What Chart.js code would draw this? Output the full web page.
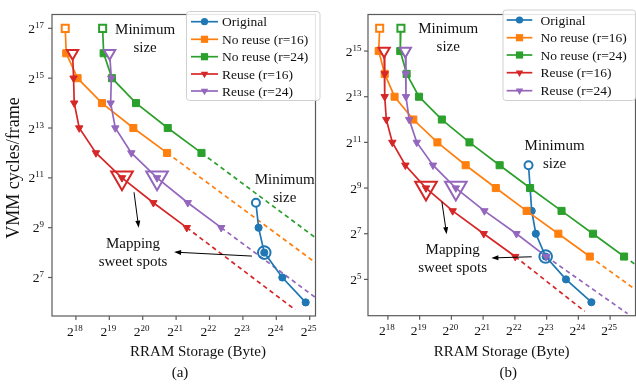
<!DOCTYPE html>
<html>
<head>
<meta charset="utf-8">
<script src="https://cdn.jsdelivr.net/npm/chart.js@4.4.1/dist/chart.umd.min.js"></script>
<style>
  html, body { margin: 0; padding: 0; background: #fff; }
  body { position: relative; width: 636px; height: 386px; overflow: hidden; }
  canvas { position: absolute; top: 0; }
  #chartA { left: 0; }
  #chartB { left: 330px; }
</style>
</head>
<body>
<canvas id="chartA" width="330" height="386"></canvas>
<canvas id="chartB" width="320" height="386"></canvas>
<script>
const seriesNames = ['Original', 'No reuse (r=16)', 'No reuse (r=24)', 'Reuse (r=16)', 'Reuse (r=24)'];
const seriesColors = ['#1f77b4', '#ff7f0e', '#2ca02c', '#d62728', '#9467bd'];
const seriesMarkers = ['circle', 'rect', 'rect', 'triangle', 'triangle'];

// Everything is log2: x = RRAM storage in bytes, y = VMM cycles per frame.
// --- (a)
const origXA = [23.39, 23.47, 23.64, 24.18, 24.88];
const origYA = [10, 9, 8, 7, 6];
const nr16XA = [17.68, 17.71, 18.05, 18.78, 19.72, 20.73];
const nr16YA = [17, 16, 15, 14, 13, 12];
const nr24XA = [18.80, 18.83, 19.08, 19.80, 20.75, 21.76];
const nr24YA = [17, 16, 15, 14, 13, 12];
const r16XA = [17.90, 17.93, 17.95, 18.10, 18.60, 19.38, 20.32, 21.32];
const r16YA = [16, 15, 14, 13, 12, 11, 10, 9];
const r24XA = [19.01, 19.06, 19.04, 19.18, 19.66, 20.43, 21.35, 22.35];
const r24YA = [16, 15, 14, 13, 12, 11, 10, 9];
// end of the dashed projection for each series (null = none)
const projEndA = [null, [25.17, 7.6], [25.17, 8.6], [24.57, 5.7], [25.17, 6.2]];
// index of the sweet spot on each series
const sweetA = [2, null, null, 5, 5];
const xTicksA = [18, 19, 20, 21, 22, 23, 24, 25];
const yTicksA = [7, 9, 11, 13, 15, 17];

// --- (b)
const origXB = [22.43, 22.48, 22.53, 22.66, 22.97, 23.61, 24.41];
const origYB = [10, 9, 8, 7, 6, 5, 4];
const nr16XB = [17.74, 17.71, 17.90, 18.21, 18.80, 19.56, 20.45, 21.40, 22.37, 23.37, 24.36];
const nr16YB = [16, 15, 14, 13, 12, 11, 10, 9, 8, 7, 6];
const nr24XB = [18.41, 18.39, 18.59, 18.98, 19.70, 20.57, 21.52, 22.48, 23.47, 24.46, 25.44];
const nr24YB = [16, 15, 14, 13, 12, 11, 10, 9, 8, 7, 6];
const r16XB = [17.88, 17.90, 17.90, 17.95, 18.14, 18.55, 19.20, 20.04, 21.02, 22.01];
const r16YB = [15, 14, 13, 12, 11, 10, 9, 8, 7, 6];
const r24XB = [18.55, 18.57, 18.57, 18.67, 18.91, 19.42, 20.14, 21.04, 22.05, 22.99];
const r24YB = [15, 14, 13, 12, 11, 10, 9, 8, 7, 6];
const projEndB = [null, [25.9, 4.45], [25.9, 5.55], [24.2, 3.6], [25.55, 3.5]];
const sweetB = [4, null, null, 6, 6];
const xTicksB = [18, 19, 20, 21, 22, 23, 24, 25];
const yTicksB = [5, 7, 9, 11, 13, 15];

const SERIF = '"Liberation Serif", "DejaVu Serif", serif';

function buildDatasets(xs, ys, projEnd, sweet) {
  const sets = [];
  xs.forEach((xv, s) => {
    const color = seriesColors[s];
    const marker = seriesMarkers[s];
    const tri = marker === 'triangle';
    const rot = tri ? 180 : 0;
    const data = xv.map((x, i) => ({ x: x, y: ys[s][i] }));
    const small = marker === 'circle' ? 3.6 : tri ? 4.3 : 5;
    const open = marker === 'circle' ? 4 : tri ? 6.5 : 5;
    sets.push({
      data: data,
      borderColor: color,
      borderWidth: 1.7,
      pointStyle: marker,
      pointRotation: rot,
      pointRadius: data.map((p, i) => i === 0 ? open : small),
      pointBackgroundColor: data.map((p, i) => i === 0 ? '#fff' : color),
      pointBorderColor: color,
      pointBorderWidth: data.map((p, i) => i === 0 ? 2 : 1),
      order: 10 - s
    });
    if (projEnd[s]) {
      sets.push({
        data: [data[data.length - 1], { x: projEnd[s][0], y: projEnd[s][1] }],
        borderColor: color,
        borderWidth: 1.7,
        borderDash: [4.5, 3.5],
        pointRadius: 0,
        order: 20
      });
    }
    if (sweet[s] !== null) {
      sets.push({
        data: [data[sweet[s]]],
        showLine: false,
        pointStyle: marker,
        pointRotation: rot,
        pointRadius: tri ? 12.5 : 6.3,
        pointBackgroundColor: 'rgba(0,0,0,0)',
        pointBorderColor: color,
        pointBorderWidth: 2,
        order: 1
      });
    }
  });
  return sets;
}

// "2" with a raised exponent
function pow2(ctx, n, x, y, align) {
  const base = '13.5px ' + SERIF, sup = '9px ' + SERIF;
  ctx.font = base;
  const bw = ctx.measureText('2').width;
  ctx.font = sup;
  const ew = ctx.measureText(String(n)).width;
  const left = align === 'right' ? x - bw - ew : x - (bw + ew) / 2;
  ctx.textAlign = 'left';
  ctx.textBaseline = 'alphabetic';
  ctx.font = base;
  ctx.fillText('2', left, y);
  ctx.font = sup;
  ctx.fillText(String(n), left + bw, y - 5);
}

function marker(ctx, style, x, y, color) {
  ctx.fillStyle = color;
  ctx.beginPath();
  if (style === 'circle') {
    ctx.arc(x, y, 3.6, 0, Math.PI * 2);
  } else if (style === 'rect') {
    ctx.rect(x - 3.6, y - 3.6, 7.2, 7.2);
  } else {
    ctx.moveTo(x, y + 4.3);
    ctx.lineTo(x - 3.7, y - 2.15);
    ctx.lineTo(x + 3.7, y - 2.15);
    ctx.closePath();
  }
  ctx.fill();
}

function arrow(ctx, x0, y0, x1, y1) {
  const ang = Math.atan2(y1 - y0, x1 - x0);
  ctx.strokeStyle = '#000';
  ctx.fillStyle = '#000';
  ctx.lineWidth = 1;
  ctx.beginPath();
  ctx.moveTo(x0, y0);
  ctx.lineTo(x1 - Math.cos(ang) * 5, y1 - Math.sin(ang) * 5);
  ctx.stroke();
  ctx.beginPath();
  ctx.moveTo(x1, y1);
  ctx.lineTo(x1 - Math.cos(ang) * 7 + Math.sin(ang) * 2.5, y1 - Math.sin(ang) * 7 - Math.cos(ang) * 2.5);
  ctx.lineTo(x1 - Math.cos(ang) * 7 - Math.sin(ang) * 2.5, y1 - Math.sin(ang) * 7 + Math.cos(ang) * 2.5);
  ctx.closePath();
  ctx.fill();
}

function makeDecor(cfg) {
  return {
    id: 'decor',
    afterDatasetsDraw(chart) {
      const ctx = chart.ctx, a = chart.chartArea;
      const sx = chart.scales.x, sy = chart.scales.y;
      ctx.save();

      // frame and outward ticks
      ctx.strokeStyle = '#5a5a5a';
      ctx.lineWidth = 1.2;
      ctx.strokeRect(a.left, a.top, a.right - a.left, a.bottom - a.top);
      ctx.fillStyle = '#111';
      cfg.xTicks.forEach(v => {
        const px = sx.getPixelForValue(v);
        ctx.beginPath();
        ctx.moveTo(px, a.bottom);
        ctx.lineTo(px, a.bottom + 4);
        ctx.stroke();
        pow2(ctx, v, px - 1, a.bottom + 19.5, 'center');
      });
      cfg.yTicks.forEach(v => {
        const py = sy.getPixelForValue(v);
        ctx.beginPath();
        ctx.moveTo(a.left, py);
        ctx.lineTo(a.left - 4, py);
        ctx.stroke();
        pow2(ctx, v, a.left - cfg.yLabelGap, py + 4.5, 'right');
      });

      // axis titles and caption
      ctx.fillStyle = '#111';
      ctx.textAlign = 'center';
      ctx.textBaseline = 'middle';
      ctx.font = '15px ' + SERIF;
      ctx.fillText('RRAM Storage (Byte)', cfg.xTitle[0], cfg.xTitle[1]);
      ctx.fillText(cfg.caption[0], cfg.caption[1], cfg.caption[2]);
      if (cfg.yTitle) {
        ctx.save();
        ctx.translate(cfg.yTitle[0], cfg.yTitle[1]);
        ctx.rotate(-Math.PI / 2);
        ctx.font = '18px ' + SERIF;
        ctx.fillText('VMM cycles/frame', 0, 0);
        ctx.restore();
      }

      // notes and arrows, placed in data units
      ctx.font = '15px ' + SERIF;
      cfg.notes.forEach(n => {
        const px = sx.getPixelForValue(n.x), py = sy.getPixelForValue(n.y);
        n.lines.forEach((t, i) => {
          ctx.fillStyle = '#111';
          ctx.textAlign = 'center';
          ctx.textBaseline = 'middle';
          ctx.fillText(t, px, py + (i - (n.lines.length - 1) / 2) * 18.5);
        });
      });
      cfg.arrows.forEach(ar => {
        arrow(ctx, sx.getPixelForValue(ar[0][0]), sy.getPixelForValue(ar[0][1]),
          sx.getPixelForValue(ar[1][0]), sy.getPixelForValue(ar[1][1]));
      });

      // legend
      const L = cfg.legend;
      ctx.fillStyle = 'rgba(255,255,255,0.85)';
      ctx.strokeStyle = '#d0d0d0';
      ctx.lineWidth = 1;
      ctx.beginPath();
      ctx.roundRect(L.left, L.top, L.right - L.left, L.bottom - L.top, 3);
      ctx.fill();
      ctx.stroke();
      seriesNames.forEach((name, i) => {
        const ry = L.rows[i];
        ctx.strokeStyle = seriesColors[i];
        ctx.lineWidth = 1.7;
        ctx.beginPath();
        ctx.moveTo(L.line[0], ry);
        ctx.lineTo(L.line[1], ry);
        ctx.stroke();
        marker(ctx, seriesMarkers[i], (L.line[0] + L.line[1]) / 2, ry, seriesColors[i]);
        ctx.fillStyle = '#111';
        ctx.textAlign = 'left';
        ctx.textBaseline = 'middle';
        ctx.font = '13.5px ' + SERIF;
        ctx.fillText(name, L.textX, ry + 1);
      });
      ctx.restore();
    }
  };
}

function panel(id, datasets, range, layout, cfg) {
  new Chart(document.getElementById(id), {
    type: 'line',
    data: { datasets: datasets },
    options: {
      responsive: false,
      animation: false,
      devicePixelRatio: 1,
      events: [],
      layout: { padding: { top: layout.top, right: layout.right, left: 0, bottom: 0 } },
      elements: { line: { tension: 0 } },
      plugins: { legend: { display: false }, tooltip: { enabled: false } },
      scales: {
        x: {
          type: 'linear', min: range.x[0], max: range.x[1],
          grid: { display: false }, border: { display: false }, ticks: { display: false },
          afterFit: s => { s.height = layout.xHeight; }
        },
        y: {
          type: 'linear', min: range.y[0], max: range.y[1],
          grid: { display: false }, border: { display: false }, ticks: { display: false },
          afterFit: s => { s.width = layout.yWidth; }
        }
      }
    },
    plugins: [makeDecor(cfg)]
  });
}

panel('chartA',
  buildDatasets([origXA, nr16XA, nr24XA, r16XA, r24XA], [origYA, nr16YA, nr24YA, r16YA, r24YA], projEndA, sweetA),
  { x: [17.284, 25.174], y: [5.455, 17.556] },
  { top: 5, right: 6, xHeight: 70, yWidth: 52 },
  {
    xTicks: xTicksA, yTicks: yTicksA, yLabelGap: 8,
    xTitle: [198, 352], caption: ['(a)', 180, 373], yTitle: [14, 168],
    legend: { left: 186.5, top: 11.5, right: 320, bottom: 100.5, rows: [21.7, 39.3, 56.7, 74, 91], line: [191, 218], textX: 222 },
    notes: [
      { lines: ['Minimum', 'size'], x: 20.07, y: 16.58 },
      { lines: ['Minimum', 'size'], x: 24.25, y: 10.55 },
      { lines: ['Mapping', 'sweet spots'], x: 19.71, y: 7.98 }
    ],
    arrows: [
      [[19.74, 10.42], [19.88, 9.0]],
      [[23.27, 7.86], [20.94, 8.02]]
    ]
  });

panel('chartB',
  buildDatasets([origXB, nr16XB, nr24XB, r16XB, r24XB], [origYB, nr16YB, nr24YB, r16YB, r24YB], projEndB, sweetB),
  { x: [17.373, 25.80], y: [3.41, 16.60] },
  { top: 5, right: 9, xHeight: 70.3, yWidth: 38 },
  {
    xTicks: xTicksB, yTicks: yTicksB, yLabelGap: 6.5,
    xTitle: [171.7, 352], caption: ['(b)', 178.3, 373], yTitle: null,
    legend: { left: 173, top: 10, right: 305.5, bottom: 100.5, rows: [20, 37.7, 55, 72.7, 90.7], line: [176.7, 202.3], textX: 210.5 },
    notes: [
      { lines: ['Minimum', 'size'], x: 19.90, y: 15.57 },
      { lines: ['Minimum', 'size'], x: 23.25, y: 10.44 },
      { lines: ['Mapping', 'sweet spots'], x: 20.04, y: 5.88 }
    ],
    arrows: [
      [[19.70, 8.40], [19.85, 6.98]],
      [[22.53, 5.99], [21.26, 5.94]]
    ]
  });
</script>
</body>
</html>
